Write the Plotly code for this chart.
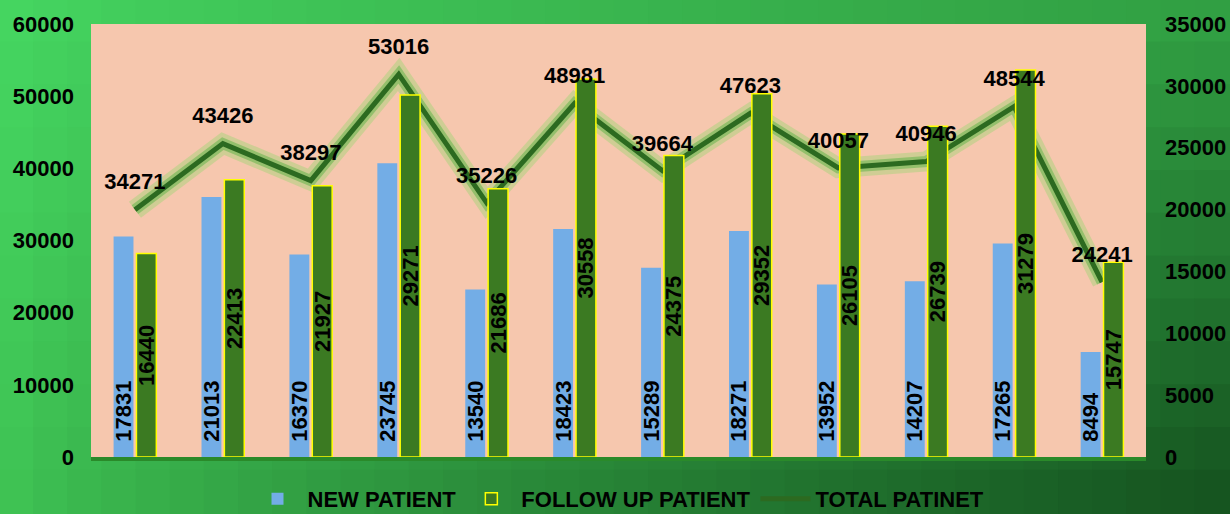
import plotly.graph_objects as go

# ---------------- data ----------------
categories = ["Jan", "Feb", "Mar", "Apr", "May", "Jun",
              "Jul", "Aug", "Sep", "Oct", "Nov", "Dec"]
new_patient = [17831, 21013, 16370, 23745, 13540, 18423,
               15289, 18271, 13952, 14207, 17265, 8494]
follow_up_patient = [16440, 22413, 21927, 29271, 21686, 30558,
                     24375, 29352, 26105, 26739, 31279, 15747]
total_patient = [34271, 43426, 38297, 53016, 35226, 48981,
                 39664, 47623, 40057, 40946, 48544, 24241]
left_ticks = [0, 10000, 20000, 30000, 40000, 50000, 60000]
right_ticks = [0, 5000, 10000, 15000, 20000, 25000, 30000, 35000]

# ---------------- styling ----------------
FONT = "Liberation Sans, Arial, sans-serif"
W, H = 1230, 514
ML, MR, MT, MB = 91, 84, 24, 57
PW, PH = W - ML - MR, H - MT - MB
PEACH = "#F6C7AE"

fig = go.Figure()

# glow under the total line
fig.add_scatter(x=categories, y=total_patient, mode="lines", yaxis="y",
                line=dict(color="rgba(150,215,110,0.4)", width=20),
                showlegend=False, hoverinfo="skip")
fig.add_scatter(x=categories, y=total_patient, mode="lines", yaxis="y",
                line=dict(color="rgba(100,180,75,0.55)", width=11),
                showlegend=False, hoverinfo="skip")
fig.add_scatter(x=categories, y=total_patient, mode="lines", yaxis="y",
                name="TOTAL PATINET", legendrank=3,
                line=dict(color="#2C6A20", width=5))

# bars on right axis
fig.add_bar(x=categories, y=new_patient, name="NEW PATIENT", yaxis="y2",
            legendrank=1,
            marker=dict(color="#73ADE6", line=dict(width=0)),
            text=new_patient, texttemplate="\u00a0\u00a0%{text}",
            textposition="inside", insidetextanchor="start", textangle=-90,
            textfont=dict(family=FONT, size=22, color="black", weight="bold"))
fig.add_bar(x=categories, y=follow_up_patient, name="FOLLOW UP PATIENT",
            yaxis="y2", legendrank=2,
            marker=dict(color="#3B7A22", line=dict(color="#FFFF00", width=1.5)),
            text=follow_up_patient, texttemplate="%{text}",
            textposition="inside", insidetextanchor="middle", textangle=-90,
            textfont=dict(family=FONT, size=22, color="black", weight="bold"))

# labels of the total line, on top of everything
fig.add_scatter(x=categories, y=total_patient, mode="markers+text", yaxis="y3",
                marker=dict(size=22, color="rgba(0,0,0,0)"),
                text=total_patient, textposition="top center",
                textfont=dict(family=FONT, size=22, color="black", weight="bold"),
                showlegend=False, hoverinfo="skip")

# ---------------- background gradient ----------------
TL = (70, 216, 98)
TR = (50, 162, 68)
BL = (64, 198, 85)
BR = (20, 80, 30)
NX, NY = 36, 12
px0, px1 = -ML / PW, 1 + MR / PW
py0, py1 = -MB / PH, 1 + MT / PH
shapes = []
for i in range(NX):
    for j in range(NY):
        u = (i + 0.5) / NX
        v = (j + 0.5) / NY  # 0 top, 1 bottom
        uu = u ** 0.75
        c = [int(round((1 - uu) * (1 - v) * TL[k] + uu * (1 - v) * TR[k]
                       + (1 - uu) * v * BL[k] + uu * v * BR[k])) for k in range(3)]
        x0 = px0 + (px1 - px0) * i / NX - 0.001
        x1 = px0 + (px1 - px0) * (i + 1) / NX + 0.002
        y1 = py1 - (py1 - py0) * j / NY + 0.003
        y0 = py1 - (py1 - py0) * (j + 1) / NY - 0.003
        shapes.append(dict(type="rect", xref="paper", yref="paper",
                           x0=x0, x1=x1, y0=y0, y1=y1, layer="below",
                           line=dict(width=0),
                           fillcolor="rgb(%d,%d,%d)" % tuple(c)))
shapes.append(dict(type="rect", xref="paper", yref="paper", x0=0, x1=1,
                   y0=0, y1=1, layer="below", line=dict(width=0),
                   fillcolor=PEACH))

tickfont = dict(family=FONT, size=22, color="black", weight="bold")

fig.update_layout(
    width=W, height=H,
    margin=dict(l=ML, r=MR, t=MT, b=MB, pad=0, autoexpand=False),
    paper_bgcolor="#2E9A3E",
    plot_bgcolor=PEACH,
    shapes=shapes,
    barmode="group", bargap=0.48, bargroupgap=0.13,
    uniformtext=dict(minsize=22, mode="show"),
    xaxis=dict(type="category", range=[-0.5, len(categories) - 0.5],
               showticklabels=False, ticks="",
               showgrid=False, zeroline=False,
               showline=True, linecolor="#2A8A2A", linewidth=4),
    yaxis=dict(range=[0, 60000], tickvals=left_ticks, tickformat="d",
               showgrid=False, zeroline=False, tickfont=tickfont, ticks="",
               ticklabelstandoff=16),
    yaxis2=dict(range=[0, 35000], tickvals=right_ticks, tickformat="d",
                overlaying="y", side="right", showgrid=False, zeroline=False,
                tickfont=tickfont, ticks="", ticklabelstandoff=18),
    yaxis3=dict(range=[0, 60000], overlaying="y", visible=False),
    legend=dict(orientation="h", x=0.5, xanchor="center", y=-0.097,
                yanchor="middle", bgcolor="rgba(0,0,0,0)",
                font=dict(family=FONT, size=22, color="black", weight="bold"),
                itemwidth=50, traceorder="normal"),
    showlegend=True,
)

fig.write_html("out.html",
               config={"displayModeBar": False},
               post_script="document.body.style.margin='0';"
                           "document.body.style.overflow='hidden';")
